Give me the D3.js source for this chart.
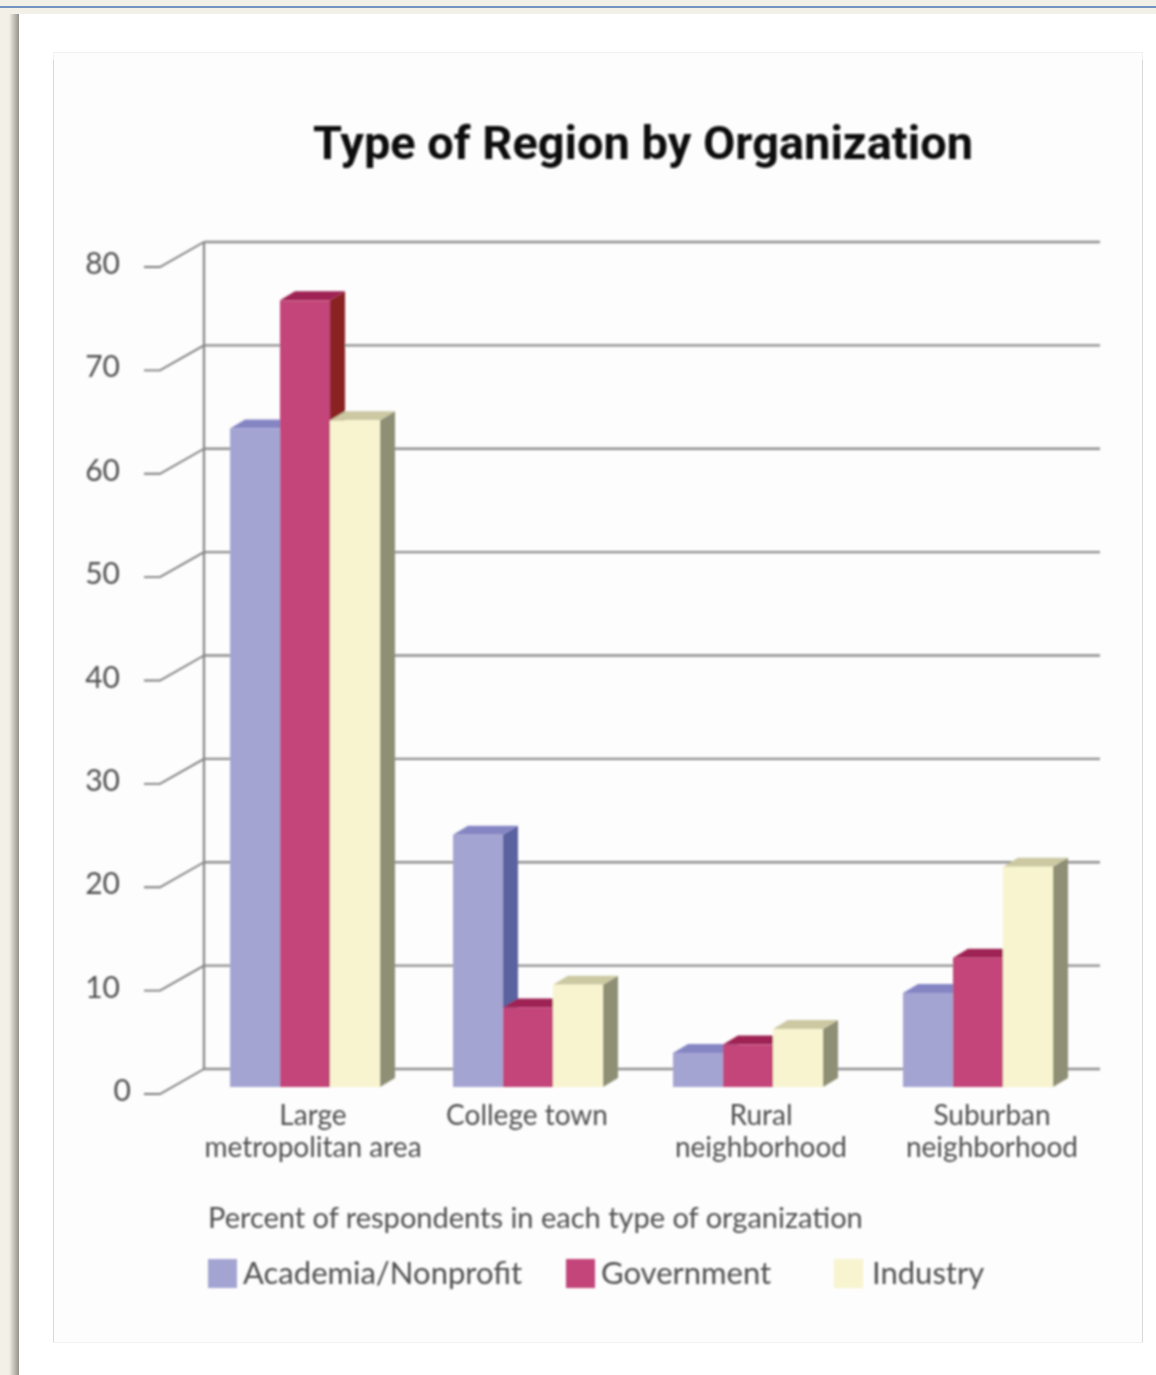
<!DOCTYPE html>
<html>
<head>
<meta charset="utf-8">
<script src="https://cdn.jsdelivr.net/npm/d3@7"></script>
<style>
  html, body { margin: 0; padding: 0; background: #fff; }
  svg { display: block; }
  text { font-family: Lato, sans-serif; fill: #505050; }
</style>
</head>
<body>
<script>
// values
var categories = [["Large", "metropolitan area"], ["College town"], ["Rural", "neighborhood"], ["Suburban", "neighborhood"]];
var seriesNames = ["Academia/Nonprofit", "Government", "Industry"];
var academia = [63.7, 24.4, 3.3, 9.1];
var government = [76.1, 7.7, 4.1, 12.5];
var industry = [64.5, 9.9, 5.6, 21.3];
var yTicks = [0, 10, 20, 30, 40, 50, 60, 70, 80];
var legendTitle = "Percent of respondents in each type of organization";
var chartTitle = "Type of Region by Organization";

var width = 1156, height = 1375;
var front = ["#a4a4d3", "#c34479", "#f8f4cf"];
var side = ["#5a62a0", "#8a2222", "#8f8f76"];
var topFace = ["#8585c4", "#9e2252", "#cbc8a2"];
var depthX = 15, depthY = 9;

var svg = d3.select("body").append("svg").attr("width", width).attr("height", height);
var defs = svg.append("defs");

var shadow = defs.append("linearGradient").attr("id", "leftShadow");
shadow.append("stop").attr("offset", "0%").attr("stop-color", "#f3f0e8");
shadow.append("stop").attr("offset", "100%").attr("stop-color", "#94928a");

// the reference is a soft, upscaled image
defs.append("filter").attr("id", "soft").append("feGaussianBlur").attr("stdDeviation", 0.8);

// page around the chart
svg.append("rect").attr("width", width).attr("height", height).attr("fill", "#fff");
svg.append("rect").attr("width", width).attr("height", 14).attr("fill", "#f3f0e8");
svg.append("rect").attr("width", 19).attr("height", height).attr("fill", "#f3f0e8");
svg.append("rect").attr("x", 9).attr("y", 14).attr("width", 10).attr("height", height - 14).attr("fill", "url(#leftShadow)");
svg.append("rect").attr("y", 6).attr("width", width).attr("height", 2).attr("fill", "#7393c0");

// chart panel
svg.append("rect").attr("x", 53.5).attr("y", 52.5).attr("width", 1089).attr("height", 1290)
    .attr("fill", "#fdfdfd").attr("stroke", "#f1f1f1");
svg.append("line").attr("x1", 53.5).attr("x2", 53.5).attr("y1", 60).attr("y2", 1342).attr("stroke", "#d8d8d8");
svg.append("line").attr("x1", 1142.5).attr("x2", 1142.5).attr("y1", 60).attr("y2", 1342).attr("stroke", "#d8d8d8");

var chart = svg.append("g").attr("filter", "url(#soft)");

var yBack = d3.scaleLinear().domain([0, 80]).range([1069, 242]);
var yFront = d3.scaleLinear().domain([0, 80]).range([1087, 260]);
var tickDrop = 25;

var groupX = d3.scaleOrdinal().domain(d3.range(4)).range([230, 453, 673, 903]);
var labelX = d3.scaleOrdinal().domain(d3.range(4)).range([313, 527, 761, 992]);
var barX = d3.scaleBand().domain(d3.range(3)).range([0, 150]);

chart.append("text").attr("x", 643).attr("y", 159)
    .attr("text-anchor", "middle")
    .attr("textLength", 660).attr("lengthAdjust", "spacingAndGlyphs")
    .style("font-family", "Roboto, sans-serif")
    .style("font-weight", 700)
    .style("font-size", "46px")
    .style("fill", "#111")
    .text(chartTitle);

// back wall grid, floor lines and ticks
var grid = chart.append("g").selectAll("g").data(yTicks).enter().append("g");
grid.append("line")
    .attr("x1", 204).attr("x2", 1100)
    .attr("y1", function(d) { return yBack(d); })
    .attr("y2", function(d) { return yBack(d); })
    .attr("stroke", "#8e8e8e").attr("stroke-width", 2.4);
grid.append("path")
    .attr("d", function(d) {
        return d3.line()([[144, yBack(d) + tickDrop], [160, yBack(d) + tickDrop], [204, yBack(d)]]);
    })
    .attr("fill", "none").attr("stroke", "#7c7c7c").attr("stroke-width", 1.8);
grid.append("text")
    .attr("x", function(d) { return d == 0 ? 131 : 120; })
    .attr("y", function(d) { return yBack(d) + tickDrop + 7; })
    .attr("text-anchor", "end")
    .style("font-size", "30px")
    .text(function(d) { return d; });

chart.append("line").attr("x1", 204).attr("x2", 204)
    .attr("y1", yBack(80)).attr("y2", yBack(0))
    .attr("stroke", "#848484").attr("stroke-width", 2.2);

// bars, back to front so the next series covers the side of the last one
[academia, government, industry].forEach(function(values, s) {
    var bars = chart.append("g").selectAll("g").data(values).enter().append("g");

    bars.append("path").attr("fill", side[s]).attr("d", function(d, i) {
        var x1 = groupX(i) + barX(s) + barX.bandwidth();
        return d3.line()([[x1, yFront(d)], [x1 + depthX, yFront(d) - depthY], [x1 + depthX, yFront(0) - depthY], [x1, yFront(0)]]) + "Z";
    });
    bars.append("path").attr("fill", topFace[s]).attr("d", function(d, i) {
        var x0 = groupX(i) + barX(s);
        var x1 = x0 + barX.bandwidth();
        return d3.line()([[x0, yFront(d)], [x0 + depthX, yFront(d) - depthY], [x1 + depthX, yFront(d) - depthY], [x1, yFront(d)]]) + "Z";
    });
    bars.append("rect").attr("fill", front[s])
        .attr("x", function(d, i) { return groupX(i) + barX(s); })
        .attr("y", function(d) { return yFront(d); })
        .attr("width", barX.bandwidth())
        .attr("height", function(d) { return yFront(0) - yFront(d); });
});

// category labels
var catLabels = chart.append("g").selectAll("text").data(categories).enter().append("text")
    .attr("text-anchor", "middle")
    .style("font-size", "28px");
catLabels.selectAll("tspan").data(function(d, i) {
        return d.map(function(t) { return {t: t, i: i}; });
    }).enter().append("tspan")
    .attr("x", function(d) { return labelX(d.i); })
    .attr("y", function(d, j) { return 1125 + j * 32; })
    .text(function(d) { return d.t; });

// legend
chart.append("text").attr("x", 208).attr("y", 1228).style("font-size", "29px").text(legendTitle);

var legendX = d3.scaleOrdinal().domain(d3.range(3)).range([208, 566, 834]);
var legend = chart.append("g").selectAll("g").data(seriesNames).enter().append("g")
    .attr("transform", function(d, i) { return "translate(" + legendX(i) + ",1259)"; });
legend.append("rect").attr("width", 29).attr("height", 29)
    .attr("fill", function(d, i) { return front[i]; });
legend.append("text").attr("x", function(d, i) { return i == 2 ? 38 : 35; }).attr("y", 25)
    .style("font-size", "31px")
    .text(function(d) { return d; });
</script>
</body>
</html>
